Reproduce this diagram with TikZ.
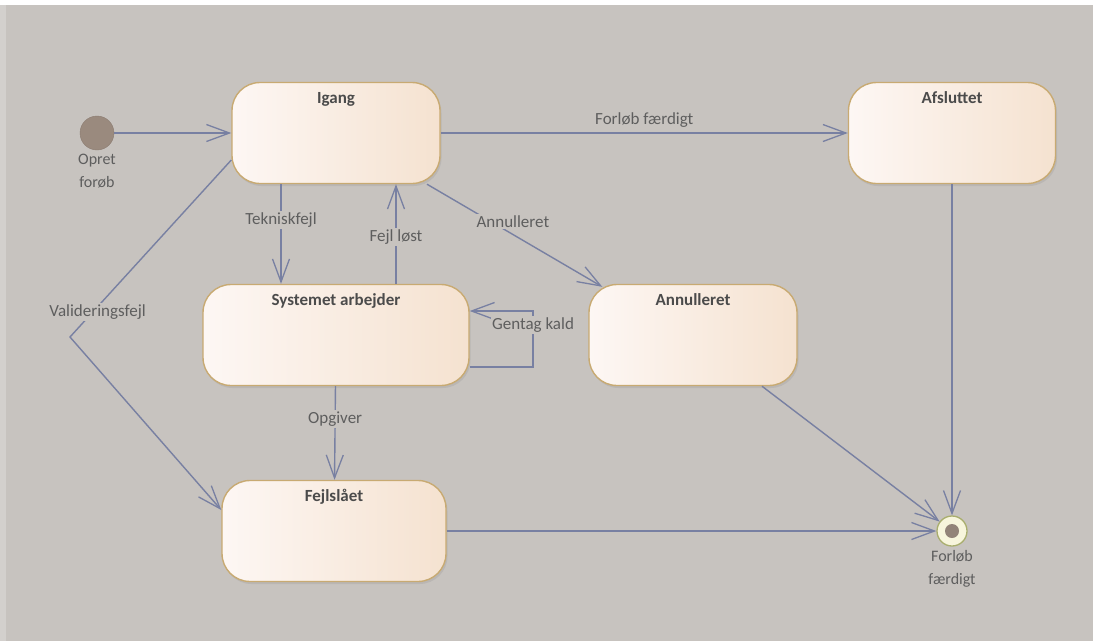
\documentclass[tikz,border=0pt]{standalone}
\usepackage{fontspec}
\setmainfont{Carlito}
\usetikzlibrary{positioning,calc,arrows.meta,shadows}

\definecolor{bg}{HTML}{C7C3BF}
\definecolor{bgleft}{HTML}{D3D0CD}
\definecolor{linecol}{HTML}{7880A2}
\definecolor{statebrd}{HTML}{C8AA72}
\definecolor{stateleft}{HTML}{FDF7F4}
\definecolor{stateright}{HTML}{F5E2D0}
\definecolor{titletxt}{HTML}{4B4B4B}
\definecolor{lbltxt}{HTML}{5E5E5E}
\definecolor{initcol}{HTML}{9A8A7E}
\definecolor{finalbrd}{HTML}{A9AE6E}
\definecolor{finalfill}{HTML}{F7F5DC}

\begin{document}
\begin{tikzpicture}[
        x=1pt, y=-1pt,
        state/.style={rectangle, rounded corners=28pt, draw=statebrd, line width=1.4pt,
            left color=stateleft, right color=stateright,
            drop shadow={opacity=0.18, shadow xshift=1.5pt, shadow yshift=-2.5pt},
            minimum height=101pt, inner ysep=8pt, text height=13pt, text depth=72pt,
            font=\bfseries\fontsize{17}{20}\selectfont, text=titletxt},
        tr/.style={draw=linecol, line width=1.4pt,
            -{Straight Barb[length=23pt, width=17pt, line width=1.3pt]}},
        lbl/.style={fill=bg, inner sep=1.5pt, text=lbltxt, font=\fontsize{17}{20}\selectfont},
        caption/.style={align=center, inner sep=1pt, text=lbltxt, font=\fontsize{16}{23}\selectfont}
    ]
      % Фон
      \useasboundingbox (0,0) rectangle (1093,641);
      \fill[bg] (0,0) rectangle (1093,641);
      \fill[white] (0,0) rectangle (1093,5);
      \fill[bgleft] (0,5) rectangle (6,641);

      % Состояния
      \node[state, minimum width=208pt] (igang) at (336,133) {Igang};
      \node[state, minimum width=207pt] (afsl) at (952,133) {Afsluttet};
      \node[state, minimum width=266pt] (sys) at (336,335) {Systemet arbejder};
      \node[state, minimum width=208pt] (annul) at (693,335) {Annulleret};
      \node[state, minimum width=224pt] (fejl) at (334,531) {Fejlslået};

      % Начало и конец
      \node[circle, fill=initcol, draw=initcol!90!black, minimum size=34pt, inner sep=0pt] (init) at (97,133) {};
      \node[caption, below=3pt of init] (initlbl) {Opret\\forøb};
      \node[circle, draw=finalbrd, fill=finalfill, line width=1.3pt, minimum size=30pt, inner sep=0pt,
            path picture={\fill[initcol!95!black] (path picture bounding box.center) circle (7pt);}]
            (final) at (952,531) {};
      \node[caption, below=3pt of final] (finallbl) {Forløb\\færdigt};

      % Переходы
      \coordinate (vbend) at (70,337);
      \coordinate (loopb) at (533,367);
      \coordinate (loopt) at (533,311);

      \draw[tr] (init) -- (igang);
      \draw[tr] (igang) -- node[lbl, fill=none, above=3pt] {Forløb færdigt} (afsl);
      \draw[tr] ($(igang.south)+(-55,0)$) -- node[lbl, pos=0.36] {Tekniskfejl} ($(sys.north)+(-55,0)$);
      \draw[tr] ($(sys.north)+(60,0)$) -- node[lbl, pos=0.47] {Fejl løst} ($(igang.south)+(60,0)$);
      \draw[tr] ($(igang.south)+(91,0)$) -- node[lbl, pos=0.49, yshift=13pt] {Annulleret} ($(annul.north west)+(14,3)$);
      \draw[tr] ($(igang.west)+(0,27)$) -- node[lbl, pos=0.86, xshift=5pt] {Valideringsfejl} (vbend)
                -- ($(fejl.west)+(0,-21)$);
      \draw[tr] (sys.east |- loopb) -- (loopb) -- node[lbl, pos=0.75] {Gentag kald} (loopt) -- (sys.east |- loopt);
      \draw[tr] (sys) -- node[lbl, pos=0.35] {Opgiver} (fejl);
      \draw[tr] ($(annul.south)+(69,0)$) -- (final);
      \draw[tr] (afsl) -- (final);
      \draw[tr] (fejl) -- (final);
    \end{tikzpicture}
\end{document}
